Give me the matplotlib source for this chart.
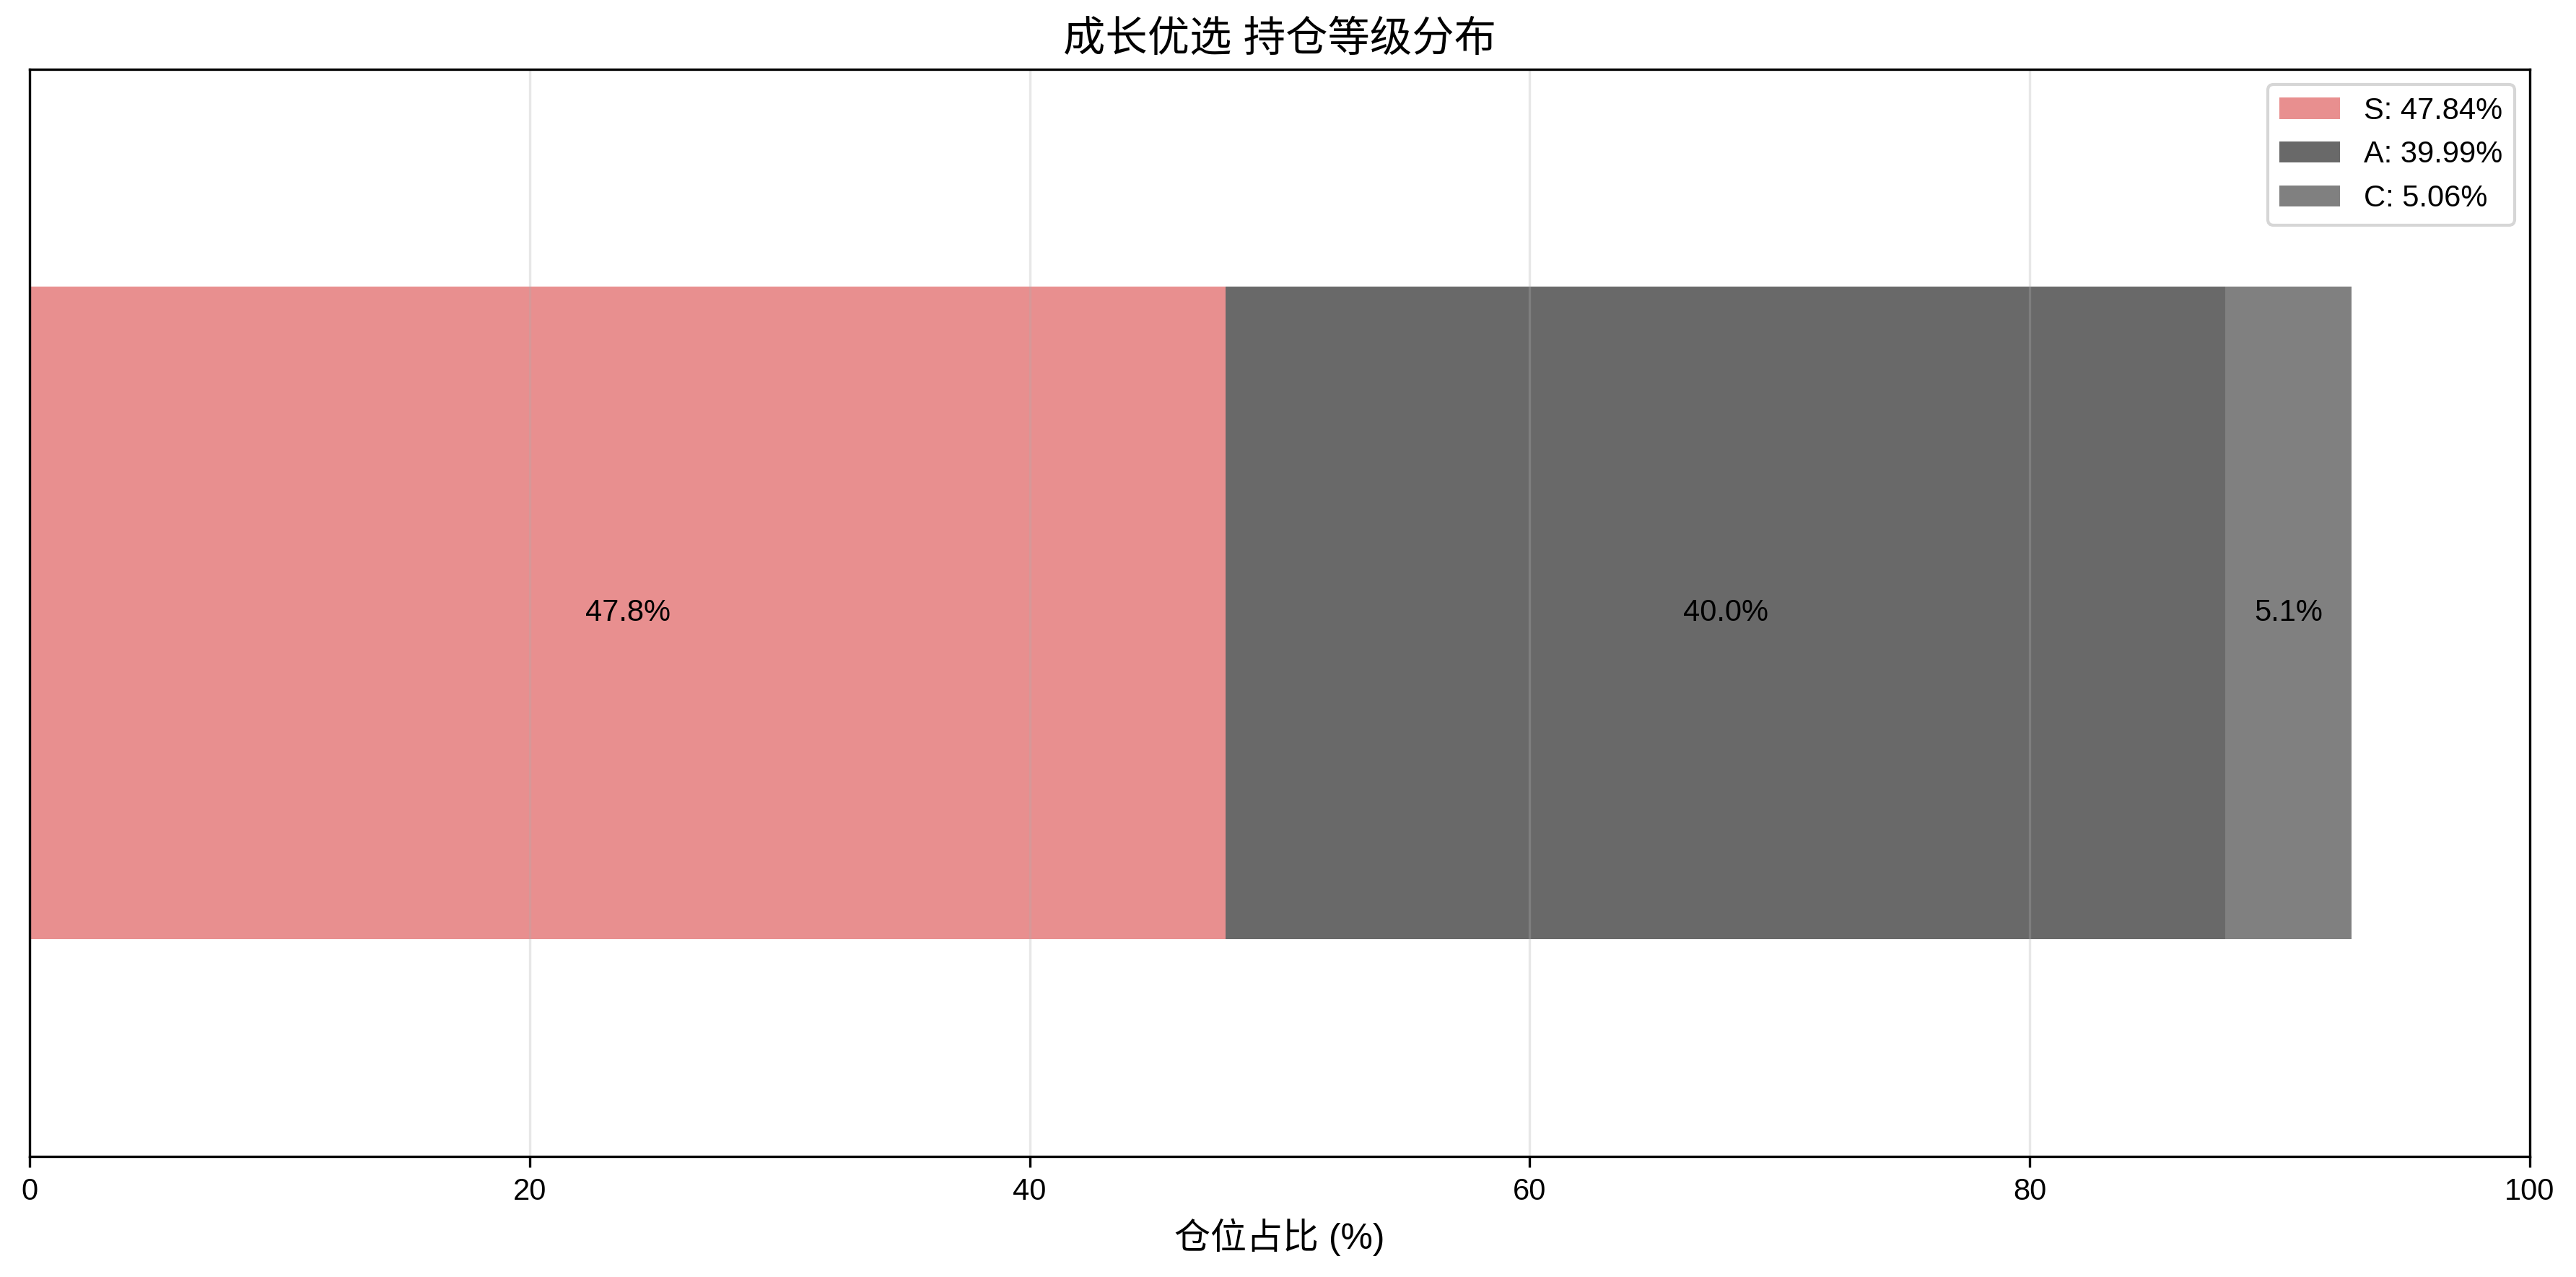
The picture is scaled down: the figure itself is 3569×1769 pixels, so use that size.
import matplotlib
matplotlib.use("Agg")
import matplotlib.pyplot as plt

plt.rcParams['font.family'] = ['Liberation Sans', 'Noto Sans CJK SC', 'DejaVu Sans']
plt.rcParams['axes.unicode_minus'] = False

# grade shares of the portfolio (%)
grades = ['S', 'A', 'C']
shares = [47.84, 39.99, 5.06]
colors = ['#E88F8F', '#696969', '#808080']

title = '成长优选 持仓等级分布'
xlabel = '仓位占比 (%)'

fig = plt.figure(figsize=(3569 / 300, 1769 / 300), dpi=300)
ax = fig.add_subplot(111)
fig.subplots_adjust(left=0.0115, right=0.982, top=0.9457, bottom=0.0944)

left = 0
for g, v, c in zip(grades, shares, colors):
    ax.barh(0, v, left=left, height=0.6, color=c, label=f'{g}: {v:.2f}%')
    ax.text(left + v / 2, 0, f'{v:.1f}%', ha='center', va='center',
            fontsize=10, color='black', zorder=3)
    left += v

ax.set_xlim(0, 100)
ax.set_ylim(-0.5, 0.5)
ax.set_yticks([])
ax.set_xlabel(xlabel, fontsize=12)
ax.set_title(title, fontsize=14)
ax.grid(True, axis='x', color='#b0b0b0', alpha=0.3)
ax.legend(loc='upper right', fontsize=10)

fig.savefig('out.png', dpi=300)
